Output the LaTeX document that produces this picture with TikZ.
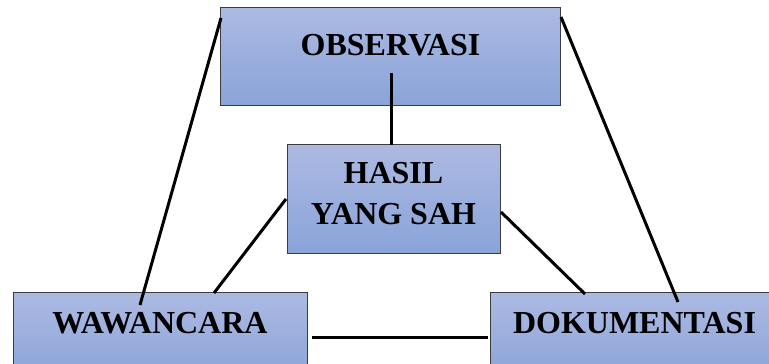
\documentclass[tikz,border=0pt]{standalone}
\usepackage{fontspec}
\setmainfont{Liberation Serif}
\definecolor{boxtop}{RGB}{172,186,226}
\definecolor{boxbot}{RGB}{138,163,217}
\definecolor{boxline}{RGB}{60,60,60}
\tikzset{
  box/.style={draw=boxline, line width=1pt, top color=boxtop, bottom color=boxbot, inner sep=0pt, anchor=north west},
  lbl/.style={font=\bfseries\fontsize{32}{41}\selectfont, align=center, inner sep=0pt},
  link/.style={line width=3pt, draw=black}
}
\begin{document}
\begin{tikzpicture}[x=1pt,y=-1pt]
\useasboundingbox (0,0) rectangle (769,364);
\clip (0,0) rectangle (769,364);
% boxes
\node[box, minimum width=340pt, minimum height=98pt] (obs) at (220,7) {};
\node[box, minimum width=213pt, minimum height=109pt] (hasil) at (287,144) {};
\node[box, minimum width=294pt, minimum height=90pt] (waw) at (13,292) {};
\node[box, minimum width=290pt, minimum height=90pt] (dok) at (490,292) {};
% labels
\node[lbl, anchor=base] (tobs) at (390.5,55) {OBSERVASI};
\node[lbl, anchor=center] (thasil) at (393.5,194) {HASIL\\YANG SAH};
\node[lbl, anchor=base] (twaw) at (160,333) {WAWANCARA};
\node[lbl, anchor=base] (tdok) at (634.5,333) {DOKUMENTASI};
% connector ends
\coordinate (oh1) at (391,73);
\coordinate (oh2) at (391,145);
\coordinate (ow1) at (221,18);
\coordinate (ow2) at (140,305);
\coordinate (od1) at (561,17);
\coordinate (od2) at (678,302);
\coordinate (hw1) at (286,199);
\coordinate (hw2) at (214,293);
\coordinate (hd1) at (501,212);
\coordinate (hd2) at (585,294);
\coordinate (wd1) at (312,337);
\coordinate (wd2) at (488,337);
% connectors
\draw[link] (oh1) -- (oh2);
\draw[link] (ow1) -- (ow2);
\draw[link] (od1) -- (od2);
\draw[link] (hw1) -- (hw2);
\draw[link] (hd1) -- (hd2);
\draw[link] (wd1) -- (wd2);
\end{tikzpicture}
\end{document}
